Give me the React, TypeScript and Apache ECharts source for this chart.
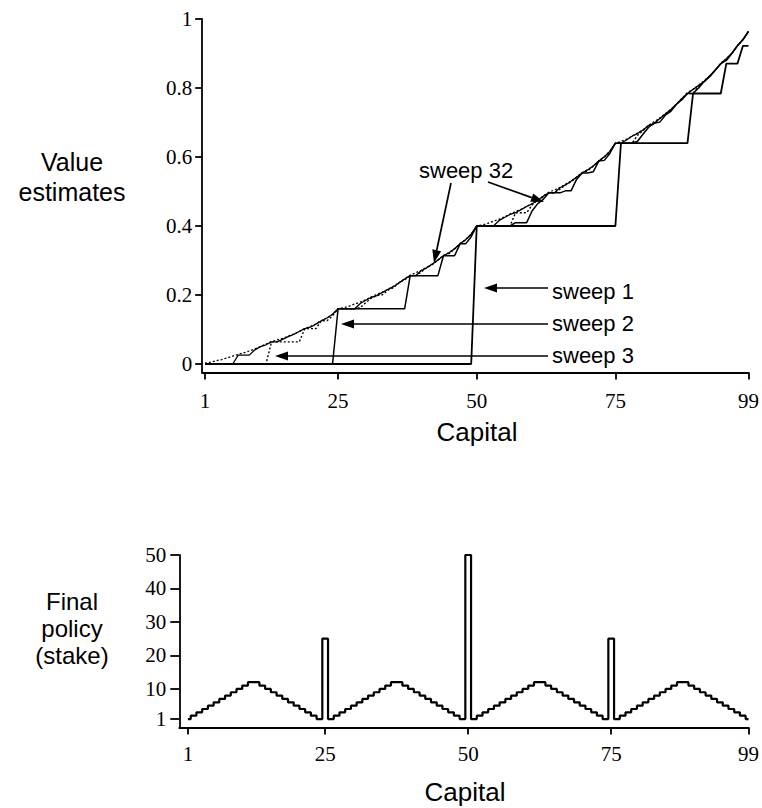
import React, { useEffect, useRef } from "react";
import * as echarts from "echarts";

// Capital states 1..99
const capital: number[] = Array.from({ length: 99 }, (_, i) => i + 1);

// Value estimates (index 0 = capital 1)
const sweep1: number[] = [
  0, 0, 0, 0, 0, 0, 0, 0, 0, 0, 0, 0, 0, 0, 0, 0, 0, 0, 0, 0, 0, 0, 0, 0, 0,
  0, 0, 0, 0, 0, 0, 0, 0, 0, 0, 0, 0, 0, 0, 0, 0, 0, 0, 0, 0, 0, 0, 0, 0,
  0.4, 0.4, 0.4, 0.4, 0.4, 0.4, 0.4, 0.4, 0.4, 0.4, 0.4, 0.4, 0.4, 0.4, 0.4, 0.4, 0.4, 0.4, 0.4, 0.4, 0.4, 0.4, 0.4, 0.4, 0.4, 0.4,
  0.64, 0.64, 0.64, 0.64, 0.64, 0.64, 0.64, 0.64, 0.64, 0.64, 0.64, 0.64, 0.64,
  0.784, 0.784, 0.784, 0.784, 0.784, 0.784,
  0.8704, 0.8704, 0.8704,
  0.9222, 0.9222,
  0.9533,
];

const sweep2: number[] = [
  0, 0, 0, 0, 0, 0, 0, 0, 0, 0, 0, 0, 0, 0, 0, 0, 0, 0, 0, 0, 0, 0, 0, 0,
  0.16, 0.16, 0.16, 0.16, 0.16, 0.16, 0.16, 0.16, 0.16, 0.16, 0.16, 0.16, 0.16,
  0.256, 0.256, 0.256, 0.256, 0.256, 0.256,
  0.3136, 0.3136, 0.3136,
  0.3482, 0.3482,
  0.3689,
  0.4, 0.4, 0.4, 0.4, 0.4, 0.4, 0.4,
  0.4096, 0.4096, 0.4096,
  0.4442, 0.4649, 0.4773,
  0.496, 0.496, 0.496,
  0.5018, 0.5018,
  0.5349,
  0.5536, 0.5536,
  0.5571, 0.5882, 0.5902, 0.6101,
  0.64, 0.64, 0.64, 0.64,
  0.6458, 0.6665, 0.6864, 0.6976, 0.7011, 0.721, 0.7322, 0.7529, 0.7661,
  0.784, 0.784,
  0.7999, 0.8186, 0.8326, 0.8517, 0.8704, 0.8799, 0.8996, 0.9222, 0.9397, 0.9638,
];

const sweep3: number[] = [
  0, 0, 0, 0, 0, 0, 0, 0, 0, 0, 0, 0,
  0.064, 0.064, 0.064, 0.064, 0.064, 0.064,
  0.1024, 0.1024, 0.1024,
  0.1254, 0.1254,
  0.1393,
  0.16, 0.16, 0.16, 0.16,
  0.1638, 0.1777, 0.1909, 0.1984, 0.2007, 0.214, 0.2214, 0.2353, 0.2441,
  0.256, 0.256,
  0.2666, 0.279, 0.2884, 0.3012, 0.3136, 0.32, 0.333, 0.3482, 0.3598, 0.3759,
  0.4, 0.4, 0.4, 0.4, 0.4, 0.4, 0.4,
  0.4384, 0.4384, 0.4384,
  0.4614, 0.4753, 0.4836,
  0.496, 0.496,
  0.5066, 0.519, 0.5284, 0.5412, 0.5536, 0.56, 0.573, 0.5882, 0.5998, 0.6159,
  0.64, 0.64, 0.64, 0.64,
  0.663, 0.6769, 0.6901, 0.6976, 0.7114, 0.7247, 0.736, 0.7529, 0.7695,
  0.784, 0.784,
  0.8061, 0.8186, 0.8348, 0.8517, 0.8704, 0.8837, 0.9009, 0.9222, 0.9405, 0.9643,
];

// unlabeled intermediate sweep visible in the figure (rises at capital 7)
const sweep4: number[] = [
  0, 0, 0, 0, 0, 0,
  0.0256, 0.0256, 0.0256,
  0.041, 0.0502, 0.0557,
  0.064, 0.064,
  0.0711, 0.0794, 0.0856, 0.0941, 0.1024, 0.1066, 0.1154, 0.1254, 0.1332, 0.1439,
  0.16, 0.16, 0.16, 0.16,
  0.1754, 0.1846, 0.1934, 0.1984, 0.2076, 0.2165, 0.224, 0.2353, 0.2464,
  0.256, 0.256,
  0.2707, 0.279, 0.2899, 0.3012, 0.3136, 0.3225, 0.3339, 0.3482, 0.3604, 0.3762,
  0.4, 0.4, 0.4, 0.4,
  0.4154, 0.4246, 0.4334, 0.4384, 0.4476, 0.4565, 0.464, 0.4753, 0.4864,
  0.496, 0.496,
  0.5108, 0.519, 0.5299, 0.5412, 0.5536, 0.5625, 0.5739, 0.5882, 0.6004, 0.6162,
  0.64, 0.64,
  0.6492, 0.6601, 0.6686, 0.6784, 0.6918, 0.6976, 0.7114, 0.7247, 0.7375, 0.7529, 0.7697,
  0.784, 0.796, 0.807, 0.8186, 0.8348, 0.8517, 0.8704, 0.8842, 0.9009, 0.9222, 0.9405, 0.9643,
];

const sweep32: number[] = [
  0.0021, 0.0052, 0.0092, 0.0129, 0.0174, 0.0231, 0.0278, 0.0323, 0.0377, 0.0435,
  0.0504, 0.0577, 0.0652, 0.0695, 0.0744, 0.0807, 0.0866, 0.0942, 0.1031, 0.1087,
  0.116, 0.1259, 0.1336, 0.1442, 0.16, 0.1631, 0.1678, 0.1738, 0.1794, 0.1861,
  0.1946, 0.2017, 0.2084, 0.2165, 0.2252, 0.2355, 0.2465, 0.2579, 0.2643, 0.2717,
  0.281, 0.2899, 0.3012, 0.3147, 0.323, 0.334, 0.3488, 0.3604, 0.3762, 0.4,
  0.4031, 0.4078, 0.4138, 0.4194, 0.4261, 0.4346, 0.4417, 0.4484, 0.4565, 0.4652,
  0.4755, 0.4865, 0.4979, 0.5043, 0.5117, 0.521, 0.5299, 0.5413, 0.5547, 0.563,
  0.574, 0.5882, 0.6004, 0.6162, 0.64, 0.6447, 0.6516, 0.6608, 0.6691, 0.6791,
  0.6919, 0.7026, 0.7126, 0.7248, 0.7378, 0.7529, 0.7697, 0.7868, 0.7965, 0.8075,
  0.8216, 0.8349, 0.8518, 0.8721, 0.8845, 0.9009, 0.9232, 0.9406, 0.9643,
];

// Final policy (stake) for capital 1..99
const policy: number[] = [
  1, 2, 3, 4, 5, 6, 7, 8, 9, 10, 11, 12, 12, 11, 10, 9, 8, 7, 6, 5, 4, 3, 2, 1,
  25,
  1, 2, 3, 4, 5, 6, 7, 8, 9, 10, 11, 12, 12, 11, 10, 9, 8, 7, 6, 5, 4, 3, 2, 1,
  50,
  1, 2, 3, 4, 5, 6, 7, 8, 9, 10, 11, 12, 12, 11, 10, 9, 8, 7, 6, 5, 4, 3, 2, 1,
  25,
  1, 2, 3, 4, 5, 6, 7, 8, 9, 10, 11, 12, 12, 11, 10, 9, 8, 7, 6, 5, 4, 3, 2, 1,
];

const xTicks: number[] = [1, 25, 50, 75, 99];
const valueTicks: number[] = [0, 0.2, 0.4, 0.6, 0.8, 1];
const stakeTicks: number[] = [1, 10, 20, 30, 40, 50];

const SERIF = '"Liberation Serif", "DejaVu Serif", serif';
const SANS = '"Liberation Sans", Arial, sans-serif';

function pairs(vals: number[]): number[][] {
  return capital.map((c, i) => [c, vals[i]]);
}

function arrow(x1: number, y1: number, x2: number, y2: number): any[] {
  const dx = x2 - x1;
  const dy = y2 - y1;
  const L = Math.hypot(dx, dy);
  const ux = dx / L;
  const uy = dy / L;
  const hl = 13;
  const hw = 4.5;
  const bx = x2 - ux * hl;
  const by = y2 - uy * hl;
  return [
    {
      type: "line",
      shape: { x1, y1, x2: bx, y2: by },
      style: { stroke: "#000", lineWidth: 1.7 },
      silent: true,
    },
    {
      type: "polygon",
      shape: {
        points: [
          [x2, y2],
          [bx - uy * hw, by + ux * hw],
          [bx + uy * hw, by - ux * hw],
        ],
      },
      style: { fill: "#000" },
      silent: true,
    },
  ];
}

function label(text: string, x: number, y: number, size: number, align: string, lineHeight?: number): any {
  return {
    type: "text",
    x,
    y,
    silent: true,
    style: {
      text,
      fill: "#000",
      fontSize: size,
      fontFamily: SANS,
      align,
      verticalAlign: "middle",
      lineHeight: lineHeight || size + 4,
    },
  };
}

export default function App() {
  const ref = useRef<HTMLDivElement>(null);

  useEffect(() => {
    if (!ref.current) return;
    const chart = echarts.init(ref.current, null, { renderer: "svg" });

    const axisLineStyle = { color: "#000", width: 1.8 };
    const valueFmt = (v: number) => String(Number(v.toFixed(1)));

    const lineSeries = (name: string, vals: number[], width: number, type: any) => ({
      name,
      type: "line",
      xAxisIndex: 0,
      yAxisIndex: 0,
      data: pairs(vals),
      symbol: "none",
      silent: true,
      lineStyle: { color: "#000", width, type },
    });

    const option: any = {
      animation: false,
      backgroundColor: "#fff",
      grid: [
        { left: 202.2, top: 19, width: 553.6, height: 353.6 },
        { left: 179.3, top: 555, width: 575.7, height: 172.4 },
      ],
      xAxis: [
        {
          type: "value",
          gridIndex: 0,
          min: 0.5,
          max: 99,
          axisLine: { show: true, onZero: false, lineStyle: axisLineStyle },
          axisTick: { show: true, customValues: xTicks, length: 7, lineStyle: axisLineStyle },
          axisLabel: {
            customValues: xTicks,
            color: "#000",
            fontFamily: SERIF,
            fontSize: 21,
            margin: 18,
          },
          splitLine: { show: false },
        },
        {
          type: "value",
          gridIndex: 1,
          min: -0.5,
          max: 99,
          axisLine: { show: true, onZero: false, lineStyle: axisLineStyle },
          axisTick: { show: true, customValues: xTicks, length: 7, lineStyle: axisLineStyle },
          axisLabel: {
            customValues: xTicks,
            color: "#000",
            fontFamily: SERIF,
            fontSize: 21,
            margin: 16,
          },
          splitLine: { show: false },
        },
      ],
      yAxis: [
        {
          type: "value",
          gridIndex: 0,
          min: -0.025,
          max: 1,
          axisLine: { show: true, onZero: false, lineStyle: axisLineStyle },
          axisTick: { show: true, customValues: valueTicks, length: 7, lineStyle: axisLineStyle },
          axisLabel: {
            customValues: valueTicks,
            formatter: valueFmt,
            color: "#000",
            fontFamily: SERIF,
            fontSize: 21,
            margin: 10,
          },
          splitLine: { show: false },
        },
        {
          type: "value",
          gridIndex: 1,
          min: -1.5,
          max: 50,
          axisLine: { show: true, onZero: false, lineStyle: axisLineStyle },
          axisTick: { show: true, customValues: stakeTicks, length: 9, lineStyle: axisLineStyle },
          axisLabel: {
            customValues: stakeTicks,
            color: "#000",
            fontFamily: SERIF,
            fontSize: 21,
            margin: 13,
          },
          splitLine: { show: false },
        },
      ],
      series: [
        lineSeries("sweep 32", sweep32, 1.3, [2, 2]),
        lineSeries("sweep 4", sweep4, 1.3, "solid"),
        lineSeries("sweep 3", sweep3, 1.4, [2, 2]),
        lineSeries("sweep 2", sweep2, 1.5, "solid"),
        lineSeries("sweep 1", sweep1, 1.8, "solid"),
        {
          name: "policy",
          type: "line",
          xAxisIndex: 1,
          yAxisIndex: 1,
          step: "middle",
          data: pairs(policy),
          symbol: "none",
          silent: true,
          lineStyle: { color: "#000", width: 2.2 },
        },
      ],
      graphic: [
        label("Value\nestimates", 72, 177, 25, "center", 30),
        label("Capital", 477, 432, 26, "center"),
        label("Final\npolicy\n(stake)", 72, 628, 24, "center", 27),
        label("Capital", 465, 792, 26, "center"),
        label("sweep 32", 419, 170, 22, "left"),
        label("sweep 1", 552, 291, 22, "left"),
        label("sweep 2", 552, 323, 22, "left"),
        label("sweep 3", 552, 355, 22, "left"),
        ...arrow(451, 183, 434, 263),
        ...arrow(488, 182, 544, 202),
        ...arrow(548, 288, 484, 288),
        ...arrow(548, 324, 341, 324),
        ...arrow(548, 356, 275, 356),
      ],
    };

    chart.setOption(option);
    return () => chart.dispose();
  }, []);

  return (
    <div
      ref={ref}
      style={{ position: "absolute", left: 0, top: 0, width: 762, height: 808, background: "#fff" }}
    />
  );
}
